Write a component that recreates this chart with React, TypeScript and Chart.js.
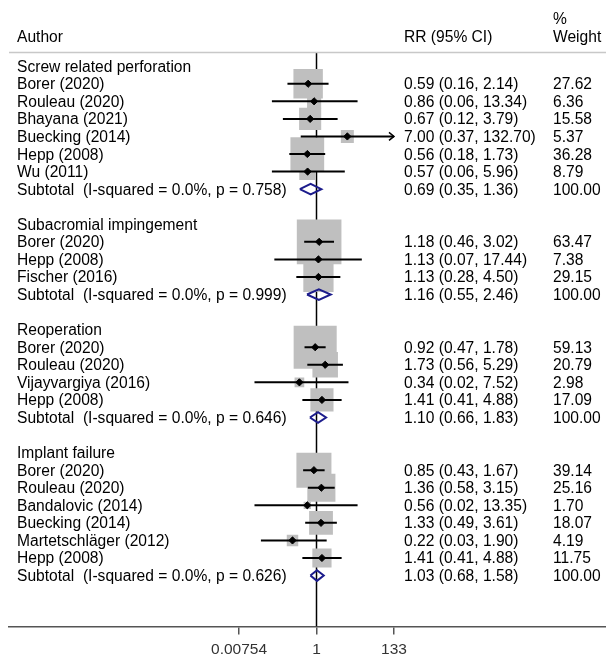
import React, { useEffect, useRef } from "react";
import { Chart, registerables } from "chart.js";

Chart.register(...registerables);

// ---------------- data ----------------
const groupNames = [
  "Screw related perforation",
  "Subacromial impingement",
  "Reoperation",
  "Implant failure",
];
const groupSizes = [6, 3, 4, 6];

const studyAuthors = [
  "Borer (2020)", "Rouleau (2020)", "Bhayana (2021)", "Buecking (2014)", "Hepp (2008)", "Wu (2011)",
  "Borer (2020)", "Hepp (2008)", "Fischer (2016)",
  "Borer (2020)", "Rouleau (2020)", "Vijayvargiya (2016)", "Hepp (2008)",
  "Borer (2020)", "Rouleau (2020)", "Bandalovic (2014)", "Buecking (2014)", "Martetschläger (2012)", "Hepp (2008)",
];
const studyRR = [0.59, 0.86, 0.67, 7.0, 0.56, 0.57, 1.18, 1.13, 1.13, 0.92, 1.73, 0.34, 1.41, 0.85, 1.36, 0.56, 1.33, 0.22, 1.41];
const studyLo = [0.16, 0.06, 0.12, 0.37, 0.18, 0.06, 0.46, 0.07, 0.28, 0.47, 0.56, 0.02, 0.41, 0.43, 0.58, 0.02, 0.49, 0.03, 0.41];
const studyHi = [2.14, 13.34, 3.79, 132.7, 1.73, 5.96, 3.02, 17.44, 4.5, 1.78, 5.29, 7.52, 4.88, 1.67, 3.15, 13.35, 3.61, 1.9, 4.88];
const studyWeight = [27.62, 6.36, 15.58, 5.37, 36.28, 8.79, 63.47, 7.38, 29.15, 59.13, 20.79, 2.98, 17.09, 39.14, 25.16, 1.7, 18.07, 4.19, 11.75];

const subtotalI2 = ["0.0%", "0.0%", "0.0%", "0.0%"];
const subtotalP = ["0.758", "0.999", "0.646", "0.626"];
const subtotalRR = [0.69, 1.16, 1.1, 1.03];
const subtotalLo = [0.35, 0.55, 0.66, 0.68];
const subtotalHi = [1.36, 2.46, 1.83, 1.58];
const subtotalWeight = [100, 100, 100, 100];

const xTickValues = [0.00754, 1, 133];
const xTickLabels = ["0.00754", "1", "133"];

// ---------------- styling ----------------
const FONT = '15.6px "Liberation Sans", Arial, sans-serif';
const BOX_K = 5.6; // px side per sqrt(weight)
const NAVY = "#1c1c8c";
const PX_PER_DECADE = 36.5;
const Y_MIN = -0.751;
const Y_MAX = 31.9;
const ROW_PX = 17.58;

type Row = { kind: "group" | "study" | "subtotal"; y: number; idx: number };

function buildRows(): Row[] {
  const rows: Row[] = [];
  let r = 0;
  let s = 0;
  groupNames.forEach((_, gi) => {
    rows.push({ kind: "group", y: r++, idx: gi });
    for (let k = 0; k < groupSizes[gi]; k++) {
      rows.push({ kind: "study", y: r++, idx: s++ });
    }
    rows.push({ kind: "subtotal", y: r++, idx: gi });
    r++;
  });
  return rows;
}

const f2 = (v: number) => v.toFixed(2);

export default function App() {
  const ref = useRef<HTMLCanvasElement | null>(null);

  useEffect(() => {
    if (!ref.current) return;
    const rows = buildRows();
    const studyRows = rows.filter((r) => r.kind === "study");
    const subRows = rows.filter((r) => r.kind === "subtotal");

    const datasets: any[] = [];

    // reference line at 1
    datasets.push({
      data: [
        { x: 1, y: Y_MIN },
        { x: 1, y: Y_MAX },
      ],
      showLine: true,
      borderColor: "#000",
      borderWidth: 1.5,
      pointRadius: 0,
      order: 10,
    });

    // weight boxes
    datasets.push({
      data: studyRows.map((r) => ({ x: studyRR[r.idx], y: r.y })),
      pointStyle: "rect",
      pointRadius: studyRows.map((r) => (BOX_K * Math.sqrt(studyWeight[r.idx])) / Math.SQRT2),
      backgroundColor: "#bfbfbf",
      borderWidth: 0,
      order: 9,
    });

    // CI lines
    const maxTick = xTickValues[xTickValues.length - 1];
    studyRows.forEach((r) => {
      datasets.push({
        data: [
          { x: studyLo[r.idx], y: r.y },
          { x: studyHi[r.idx], y: r.y },
        ],
        showLine: true,
        borderColor: "#000",
        borderWidth: 2,
        pointRadius: 0,
        order: 8,
      });
      if (studyHi[r.idx] >= maxTick * 0.99) {
        const back = studyHi[r.idx] / Math.pow(10, 5 / PX_PER_DECADE);
        const dy = 4 / ROW_PX;
        datasets.push({
          data: [
            { x: back, y: r.y - dy },
            { x: studyHi[r.idx], y: r.y },
            { x: back, y: r.y + dy },
          ],
          showLine: true,
          borderColor: "#000",
          borderWidth: 1.5,
          pointRadius: 0,
          order: 8,
        });
      }
    });

    // point estimates
    datasets.push({
      data: studyRows.map((r) => ({ x: studyRR[r.idx], y: r.y })),
      pointStyle: "rectRot",
      pointRadius: 3.6,
      backgroundColor: "#000",
      borderColor: "#000",
      borderWidth: 1,
      order: 7,
    });

    // subtotal diamonds
    const dh = 5.3 / ROW_PX;
    subRows.forEach((r) => {
      const g = r.idx;
      datasets.push({
        data: [
          { x: subtotalLo[g], y: r.y },
          { x: subtotalRR[g], y: r.y - dh },
          { x: subtotalHi[g], y: r.y },
          { x: subtotalRR[g], y: r.y + dh },
          { x: subtotalLo[g], y: r.y },
        ],
        showLine: true,
        borderColor: NAVY,
        borderWidth: 2,
        pointRadius: 0,
        fill: false,
        tension: 0,
        order: 6,
      });
    });

    const textPlugin = {
      id: "forestText",
      afterDraw(chart: any) {
        const ctx = chart.ctx as CanvasRenderingContext2D;
        const ys = chart.scales.y;
        ctx.save();
        // separator
        ctx.strokeStyle = "#c8c8c8";
        ctx.lineWidth = 1.5;
        ctx.beginPath();
        ctx.moveTo(9, 52.5);
        ctx.lineTo(606, 52.5);
        ctx.stroke();

        ctx.font = FONT;
        ctx.fillStyle = "#000";
        ctx.textAlign = "left";
        ctx.textBaseline = "alphabetic";
        const XL = 17;
        const XR = 404;
        const XW = 553;
        ctx.fillText("Author", XL, 41.7);
        ctx.fillText("RR (95% CI)", XR, 41.7);
        ctx.fillText("%", XW, 24.2);
        ctx.fillText("Weight", XW, 41.7);

        rows.forEach((r) => {
          const py = ys.getPixelForValue(r.y) + 5.5;
          if (r.kind === "group") {
            ctx.fillText(groupNames[r.idx], XL, py);
          } else if (r.kind === "study") {
            const i = r.idx;
            ctx.fillText(studyAuthors[i], XL, py);
            ctx.fillText(`${f2(studyRR[i])} (${f2(studyLo[i])}, ${f2(studyHi[i])})`, XR, py);
            ctx.fillText(f2(studyWeight[i]), XW, py);
          } else {
            const g = r.idx;
            ctx.fillText(`Subtotal  (I-squared = ${subtotalI2[g]}, p = ${subtotalP[g]})`, XL, py);
            ctx.fillText(`${f2(subtotalRR[g])} (${f2(subtotalLo[g])}, ${f2(subtotalHi[g])})`, XR, py);
            ctx.fillText(f2(subtotalWeight[g]), XW, py);
          }
        });
        ctx.restore();
      },
    };

    const chart = new Chart(ref.current, {
      type: "scatter",
      data: { datasets },
      options: {
        animation: false,
        responsive: false,
        devicePixelRatio: 1,
        events: [],
        layout: { autoPadding: false, padding: { left: 9, right: 0, top: 53, bottom: -10 } },
        plugins: { legend: { display: false }, tooltip: { enabled: false } },
        scales: {
          x: {
            type: "logarithmic",
            min: Math.pow(10, (9 - 316.5) / PX_PER_DECADE),
            max: Math.pow(10, (606 - 316.5) / PX_PER_DECADE),
            afterBuildTicks: (scale: any) => {
              scale.ticks = xTickValues.map((v) => ({ value: v }));
            },
            afterFit: (scale: any) => {
              scale.paddingLeft = 0;
              scale.paddingRight = 0;
            },
            border: { display: true, color: "#555", width: 1.5 },
            grid: { display: true, drawOnChartArea: false, drawTicks: true, tickLength: 8, color: "#555", lineWidth: 1.5 },
            ticks: {
              autoSkip: false,
              maxRotation: 0,
              padding: 7.5,
              color: "#333",
              font: { family: '"Liberation Sans", Arial, sans-serif', size: 15.5, lineHeight: 1.0 },
              callback: (v: any) => {
                const i = xTickValues.indexOf(Number(v));
                return i >= 0 ? xTickLabels[i] : "";
              },
            },
          },
          y: {
            type: "linear",
            display: false,
            reverse: true,
            min: Y_MIN,
            max: Y_MAX,
          },
        },
      },
      plugins: [textPlugin],
    } as any);

    return () => chart.destroy();
  }, []);

  return (
    <div style={{ position: "absolute", left: 0, top: 0, width: 606, height: 655, background: "#fff" }}>
      <canvas ref={ref} width={606} height={655} style={{ display: "block", width: 606, height: 655 }} />
    </div>
  );
}
